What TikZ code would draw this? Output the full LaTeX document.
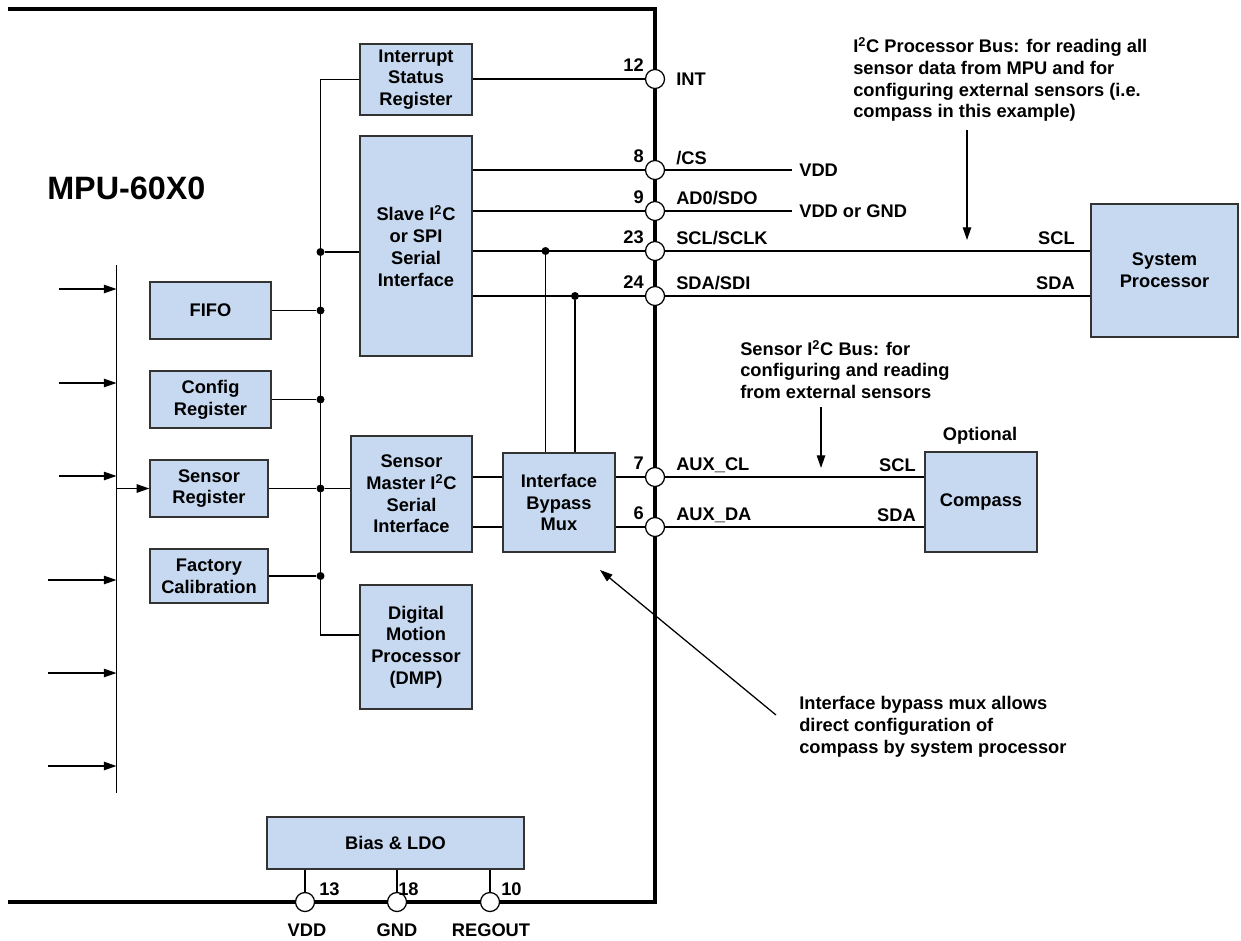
\documentclass[tikz,border=0pt]{standalone}
\usepackage{fontspec}
\setmainfont{Liberation Sans}
\usetikzlibrary{arrows.meta,positioning}
\definecolor{blkfill}{RGB}{198,217,240}

\begin{document}
\begin{tikzpicture}[
    x=0.025cm, y=-0.025cm,
    font=\fontsize{13}{15.5}\selectfont\bfseries,
    blk/.style 2 args={
    draw=black!80,
    fill=blkfill,
    line width=0.9pt,
    align=center,
    inner sep=0pt,
    minimum width=#1*0.025cm,
    minimum height=#2*0.025cm},
    pin/.style={
    circle,
    draw=black,
    fill=white,
    line width=0.9pt,
    inner sep=0pt,
    minimum size=0.475cm},
    dot/.style={circle, fill=black, inner sep=0pt, minimum size=0.2cm},
    lbl/.style={inner sep=0pt},
    wire/.style={line width=0.9pt},
    myarrow/.style={-{Triangle[length=9pt,width=6pt]}, line width=0.9pt}
    ]
    \useasboundingbox (0,0) rectangle (1241,940);

    % chip outline
    \draw[line width=2.9pt] (8,9) -- (655,9) -- (655,902) -- (8,902);
    \node[lbl, anchor=west, font=\fontsize{23}{27}\selectfont\bfseries] (title) at (47,188) {MPU-60X0};

    % blocks
    \node[blk={112}{71}] (isr) at (416,79.5) {Interrupt\\Status\\Register};
    \node[blk={112}{220}] (slave) at (416,246) {Slave I\textsuperscript{2}C\\or SPI\\Serial\\Interface};
    \node[blk={121}{57}] (fifo) at (210.5,310.5) {FIFO};
    \node[blk={121}{57}] (cfg) at (210.5,399.5) {Config\\Register};
    \node[blk={118}{57}] (sreg) at (209,488.5) {Sensor\\Register};
    \node[blk={118}{54}] (fcal) at (209,576) {Factory\\Calibration};
    \node[blk={121}{116}] (smst) at (411.5,494) {Sensor\\Master I\textsuperscript{2}C\\Serial\\Interface};
    \node[blk={112}{99}] (mux) at (559,502.5) {Interface\\Bypass\\Mux};
    \node[blk={112}{124}] (dmp) at (416,647) {Digital\\Motion\\Processor\\(DMP)};
    \node[blk={257}{52}] (bias) at (395.5,843) {Bias \& LDO};
    \node[blk={147}{133}] (sysp) at (1164.5,270.5) {System\\Processor};
    \node[blk={112}{100}] (cmps) at (981,502) {Compass};
    \node[lbl] (opt) at (980,436) {Optional};

    % pins
    \foreach \nm/\yy in {pint/79, pcs/170, pad/211, pscl/251, psda/296, paxc/477, paxd/527}
        \node[pin] (\nm) at (655,\yy) {};
    \foreach \nm/\xx in {pvdd/305, pgnd/397, preg/490}
        \node[pin] (\nm) at (\xx,902) {};
    \foreach \nm/\num in {pint/12, pcs/8, pad/9, pscl/23, psda/24, paxc/7, paxd/6}
        \node[lbl, anchor=east] at ([shift={(-11,-14)}]\nm) {\num};
    \node[lbl, anchor=west] at ([shift={(21,0)}]pint) {INT};
    \node[lbl, anchor=west] at ([shift={(21,-12)}]pcs) {/CS};
    \node[lbl, anchor=west] at ([shift={(21,-13)}]pad) {AD0/SDO};
    \node[lbl, anchor=west] at ([shift={(21,-13)}]pscl) {SCL/SCLK};
    \node[lbl, anchor=west] at ([shift={(21,-13)}]psda) {SDA/SDI};
    \node[lbl, anchor=west] at ([shift={(21,-12)}]paxc) {AUX\_CL};
    \node[lbl, anchor=west] at ([shift={(21,-12)}]paxd) {AUX\_DA};
    \node[lbl, anchor=west] at (319,889) {13};
    \node[lbl, anchor=west] at (398,889) {18};
    \node[lbl, anchor=west] at (501,889) {10};
    \node[lbl] at (307,930) {VDD};
    \node[lbl] at (397,930) {GND};
    \node[lbl] at (491,930) {REGOUT};

    % outside labels
    \node[lbl, inner sep=5pt, anchor=west] (vddcs) at (792,170) {VDD};
    \node[lbl, inner sep=5pt, anchor=west] (vddgnd) at (792,211) {VDD or GND};
    \node[lbl, anchor=east] at (1075,238) {SCL};
    \node[lbl, anchor=east] at (1075,283) {SDA};
    \node[lbl, anchor=east] at (916,465) {SCL};
    \node[lbl, anchor=east] at (916,515) {SDA};

    % internal bus
    \coordinate (bbot) at (320.5,635);
    \draw[wire] (isr.west) -| (bbot) -- (dmp.west |- bbot);
    \node[dot] (dslv) at (320.5,252) {};
    \draw[wire] (dslv) -- (slave.west |- dslv);
    \foreach \bx in {fifo, cfg, sreg, fcal} {
        \node[dot] (d\bx) at (bbot |- \bx.east) {};
        \draw[wire] (\bx.east) -- (d\bx);
    }
    \draw[wire] (dsreg) -- (smst.west |- dsreg);

    % slave and mux wiring
    \draw[wire] (isr.east |- pint) -- (pint);
    \foreach \p in {pcs, pad, pscl, psda}
        \draw[wire] (slave.east |- \p) -- (\p);
    \node[dot] (dscl) at (545.5,251) {};
    \node[dot] (dsda) at (575,296) {};
    \draw[wire] (dscl) -- (dscl |- mux.north);
    \draw[wire] (dsda) -- (dsda |- mux.north);
    \foreach \p in {paxc, paxd} {
        \draw[wire] (smst.east |- \p) -- (mux.west |- \p);
        \draw[wire] (mux.east |- \p) -- (\p);
        \draw[wire] (\p) -- (cmps.west |- \p);
    }
    \draw[wire] (pcs) -- (vddcs);
    \draw[wire] (pad) -- (vddgnd);
    \draw[wire] (pscl) -- (sysp.west |- pscl);
    \draw[wire] (psda) -- (sysp.west |- psda);
    \foreach \p in {pvdd, pgnd, preg}
        \draw[wire] (bias.south -| \p) -- (\p);

    % sensor inputs
    \coordinate (lbtop) at (116.5,265);
    \coordinate (lbbot) at (116.5,793);
    \draw[wire] (lbtop) -- (lbbot);
    \foreach \yy/\xx in {289/59, 383/59, 476/59, 580/48, 673/48, 766/48} {
        \coordinate (in\yy) at (\xx,\yy);
        \draw[myarrow] (in\yy) -- (lbtop |- in\yy);
    }
    \draw[myarrow] (lbtop |- sreg.west) -- (sreg.west);

    % notes
    \node[lbl, anchor=west, align=left] (pbus) at (853,79.5) {I\textsuperscript{2}C Processor Bus: for reading all\\sensor data from MPU and for\\configuring external sensors (i.e.\\compass in this example)};
    \coordinate (pbusa) at (967,130);
    \coordinate (pbusb) at (967,240);
    \draw[myarrow] (pbusa) -- (pbusb);
    \node[lbl, anchor=west, align=left] (sbus) at (740,369.5) {Sensor I\textsuperscript{2}C Bus: for\\configuring and reading\\from external sensors};
    \coordinate (sbusa) at (821,407);
    \coordinate (sbusb) at (821,468);
    \draw[myarrow] (sbusa) -- (sbusb);
    \node[lbl, anchor=west, align=left] (note) at (799,726.5) {Interface bypass mux allows\\direct configuration of\\compass by system processor};
    \coordinate (notea) at (776,715);
    \coordinate (noteb) at (600,570);
    \draw[myarrow] (notea) -- (noteb);
\end{tikzpicture}
\end{document}
